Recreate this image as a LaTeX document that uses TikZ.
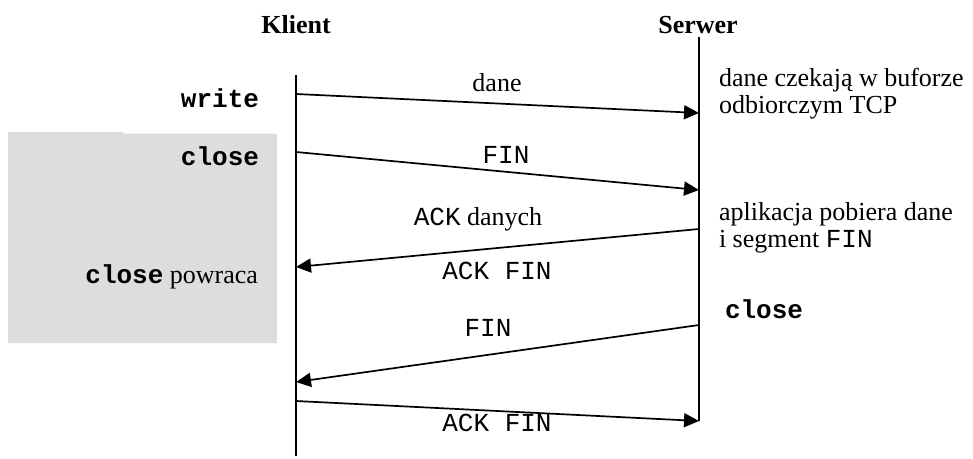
\documentclass[tikz,border=0pt]{standalone}
\usepackage{fontspec}
\setmainfont{Liberation Serif}
\setmonofont{Liberation Mono}
\usetikzlibrary{arrows.meta}
\definecolor{boxgray}{RGB}{221,221,221}
\begin{document}
\begin{tikzpicture}[x=1pt,y=-1pt,
  every node/.style={inner sep=0pt,outer sep=0pt,font=\fontsize{26}{27}\selectfont},
  lifeline/.style={line width=1.7pt},
  msg/.style={line width=1.7pt,-{Triangle[length=15pt,width=14pt]}},
  head/.style={anchor=base,font=\fontsize{26}{27}\selectfont\bfseries},
  call/.style={font=\fontsize{26}{27}\selectfont\ttfamily\bfseries},
  seg/.style={anchor=base,font=\fontsize{26}{27}\selectfont\ttfamily},
  note/.style={anchor=base west,align=left}]
\useasboundingbox (0,0) rectangle (973,458);

% shaded block behind the client-side calls
\fill[boxgray] (8,132) -- (123,132) -- (123,133.5) -- (277,133.5)
  -- (277,343) -- (8,343) -- cycle;

% column headings
\node[head] (klient) at (296,33) {Klient};
\node[head] (serwer) at (698,33) {Serwer};

% lifelines
\coordinate (ctop) at (296,75);
\coordinate (cbot) at (296,456);
\coordinate (stop) at (699,37);
\coordinate (sbot) at (699,421);
\draw[lifeline] (ctop) -- (cbot);
\draw[lifeline] (stop) -- (sbot);

% message end points
\coordinate (c1) at (296,94);  \coordinate (s1) at (699,113);
\coordinate (c2) at (296,152); \coordinate (s2) at (699,190);
\coordinate (s3) at (699,229); \coordinate (c3) at (296,267);
\coordinate (s4) at (699,325); \coordinate (c4) at (296,382);
\coordinate (c5) at (296,401); \coordinate (s5) at (699,421);

\draw[msg] (c1) -- (s1);
\draw[msg] (c2) -- (s2);
\draw[msg] (s3) -- (c3);
\draw[msg] (s4) -- (c4);
\draw[msg] (c5) -- (s5);

% message labels
\node[anchor=base] (ldane) at (497,91) {dane};
\node[seg] (lfin1) at (506,163) {FIN};
\node[anchor=base] (lackd) at (478,225) {\texttt{ACK} danych};
\node[seg] (lackf1) at (497,279) {ACK FIN};
\node[seg] (lfin2) at (488,336) {FIN};
\node[seg] (lackf2) at (497,431) {ACK FIN};

% client-side calls
\node[call,anchor=base east] (cwrite) at (259,107) {write};
\node[call,anchor=base east] (cclose) at (259,165) {close};
\node[anchor=base east] (cret) at (258,283) {\texttt{\bfseries close} powraca};

% server-side notes
\node[note] (nbuf) at (719,113) {dane czekają w buforze\\odbiorczym TCP};
\node[note] (napp) at (719,247) {aplikacja pobiera dane\\i segment \texttt{FIN}};
\node[call,anchor=base west] (sclose) at (725,318) {close};
\end{tikzpicture}
\end{document}
